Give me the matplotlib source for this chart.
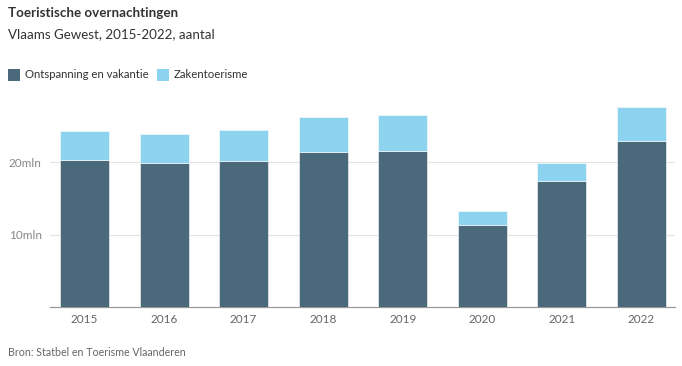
import matplotlib.pyplot as plt
import numpy as np

years = ["2015", "2016", "2017", "2018", "2019", "2020", "2021", "2022"]
# miljoen overnachtingen
ontspanning = [20.3, 19.9, 20.2, 21.4, 21.6, 11.35, 17.4, 22.9]
totaal = [24.35, 23.9, 24.5, 26.2, 26.5, 13.3, 19.9, 27.6]
zaken = [t - o for t, o in zip(totaal, ontspanning)]

y_ticks = [10, 20]
y_tick_labels = ["10mln", "20mln"]

DARK = "#4a6a7b"
LIGHT = "#8dd3f0"

plt.rcParams["font.family"] = ["Lato", "DejaVu Sans"]

fig = plt.figure(figsize=(6.82, 3.66), dpi=100)
ax = fig.add_axes([0.0733, 0.1612, 0.9164, 0.5656])

x = np.arange(len(years))
ax.bar(x, ontspanning, width=0.615, color=DARK, edgecolor="white", linewidth=0.4, zorder=3)
ax.bar(x, zaken, bottom=ontspanning, width=0.615, color=LIGHT, edgecolor="white", linewidth=0.4, zorder=3)

ax.set_xlim(-0.433, 7.42)
ax.set_ylim(0, 28.6)
ax.set_xticks(x)
ax.set_xticklabels(years, fontsize=8.5, color="#666666")
ax.set_yticks(y_ticks)
ax.set_yticklabels(y_tick_labels, fontsize=8.5, color="#888888")
ax.tick_params(axis="both", length=0, pad=6)
ax.tick_params(axis="x", pad=5)
ax.grid(axis="y", color="#e4e4e4", linewidth=0.8, zorder=0)
for side in ["top", "right", "left"]:
    ax.spines[side].set_visible(False)
ax.spines["bottom"].set_color("#999999")
ax.spines["bottom"].set_linewidth(0.9)

fig.text(8 / 682, 1 - 13 / 366, "Toeristische overnachtingen", fontsize=9.6, fontweight="bold",
         color="#333333", va="center", ha="left")
fig.text(8 / 682, 1 - 34 / 366, "Vlaams Gewest, 2015-2022, aantal", fontsize=9.6,
         color="#333333", va="center", ha="left")

# legend
for x0, label, col in [(8, "Ontspanning en vakantie", DARK), (157, "Zakentoerisme", LIGHT)]:
    fig.patches.append(plt.Rectangle((x0 / 682, 1 - 81 / 366), 12 / 682, 12 / 366,
                                     transform=fig.transFigure, facecolor=col, edgecolor="none"))
    fig.text((x0 + 17) / 682, 1 - 75 / 366, label, fontsize=8.2, color="#333333",
             va="center", ha="left")

fig.text(8 / 682, 1 - 352 / 366, "Bron: Statbel en Toerisme Vlaanderen", fontsize=7.7,
         color="#666666", va="center", ha="left")

fig.savefig("out.png", dpi=100)
